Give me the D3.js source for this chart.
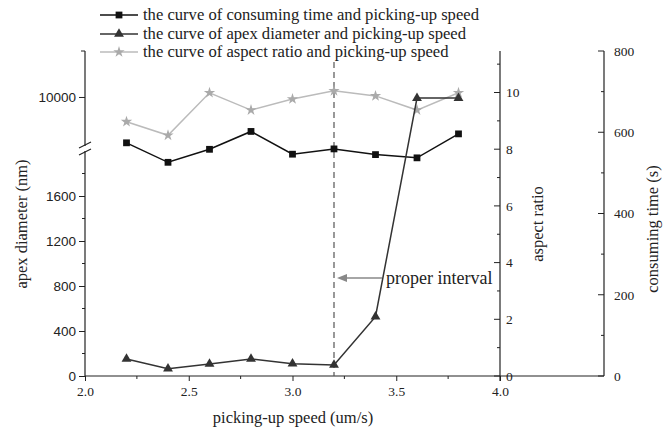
<!DOCTYPE html>
<html>
<head>
<meta charset="utf-8">
<script src="https://cdn.jsdelivr.net/npm/d3@7"></script>
<style>
  body { margin: 0; background: #fff; }
  svg { display: block; }
</style>
</head>
<body>
<svg id="chart" width="670" height="428"></svg>
<script>
// data
let speed = [2.2, 2.4, 2.6, 2.8, 3.0, 3.2, 3.4, 3.6, 3.8];
let consumingTime = [574, 526, 558, 602, 546, 559, 545, 537, 596];
let apexDiameter = [151, 65, 107, 151, 109, 98, 527, 9990, 9990];
let aspectRatio = [8.97, 8.49, 9.99, 9.38, 9.77, 10.06, 9.88, 9.38, 9.99];

let xTicks = [2.0, 2.5, 3.0, 3.5, 4.0];
let apexLowTicks = [0, 400, 800, 1200, 1600];
let apexHighTicks = [10000];
let aspectTicks = [0, 2, 4, 6, 8, 10];
let timeTicks = [0, 200, 400, 600, 800];

let legendNames = [
    "the curve of consuming time and picking-up speed",
    "the curve of apex diameter and picking-up speed",
    "the curve of aspect ratio and picking-up speed"
];

const SERIF = "'Liberation Serif', 'Times New Roman', serif";
const SANS = "'Liberation Sans', Arial, sans-serif";

let svg = d3.select("#chart");

let plotLeft = 85, plotRight = 500, plotFar = 604, plotBottom = 376, plotTop = 51;
let breakLow = 151, breakHigh = 146;

let x = d3.scaleLinear().domain([2.0, 4.0]).range([plotLeft, plotRight]);
let yLow = d3.scaleLinear().domain([0, 2000]).range([plotBottom, plotBottom - 2000 * 45 / 400]);
let yHigh = d3.scaleLinear().domain([9564, 10409]).range([breakHigh, plotTop]);
let yApex = v => v <= 2000 ? yLow(v) : yHigh(v);
let yAspect = d3.scaleLinear().domain([0, 325 / 28.35]).range([plotBottom, plotTop]);
let yTime = d3.scaleLinear().domain([0, 800]).range([plotBottom, plotTop]);

let axisColor = "#222";
let labelColor = "#222";

function styleAxis(g, family) {
    g.attr("font-family", null);
    g.select(".domain").remove();
    g.selectAll("text")
        .style("font-family", family)
        .style("font-size", "13.5px")
        .attr("fill", labelColor);
    g.selectAll("line").attr("stroke", axisColor);
}

// x axis
svg.append("g")
    .attr("transform", "translate(0," + plotBottom + ")")
    .call(d3.axisBottom(x).tickValues(xTicks).tickFormat(d3.format(".1f")).tickSize(5).tickPadding(5))
    .call(styleAxis, SERIF);
svg.append("g").selectAll("line")
    .data(d3.range(2.25, 4.0, 0.5))
    .join("line")
    .attr("x1", d => x(d)).attr("x2", d => x(d))
    .attr("y1", plotBottom).attr("y2", plotBottom + 3)
    .attr("stroke", axisColor);
svg.append("line")
    .attr("x1", plotLeft).attr("x2", plotFar)
    .attr("y1", plotBottom).attr("y2", plotBottom)
    .attr("stroke", axisColor).attr("stroke-width", 1.2);

// left axis, broken
svg.append("g")
    .attr("transform", "translate(" + plotLeft + ",0)")
    .call(d3.axisLeft(yLow).tickValues(apexLowTicks).tickFormat(d3.format("d")).tickSize(6).tickPadding(3))
    .call(styleAxis, SANS);
svg.append("g")
    .attr("transform", "translate(" + plotLeft + ",0)")
    .call(d3.axisLeft(yHigh).tickValues(apexHighTicks).tickFormat(d3.format("d")).tickSize(6).tickPadding(3))
    .call(styleAxis, SANS);
svg.append("g").selectAll("line")
    .data(d3.range(200, 2000, 400))
    .join("line")
    .attr("x1", plotLeft - 3).attr("x2", plotLeft)
    .attr("y1", d => yLow(d)).attr("y2", d => yLow(d))
    .attr("stroke", axisColor);
svg.append("line").attr("x1", plotLeft).attr("x2", plotLeft)
    .attr("y1", plotBottom).attr("y2", breakLow).attr("stroke", axisColor).attr("stroke-width", 1.2);
svg.append("line").attr("x1", plotLeft).attr("x2", plotLeft)
    .attr("y1", breakHigh).attr("y2", plotTop).attr("stroke", axisColor).attr("stroke-width", 1.2);
svg.append("line").attr("x1", plotLeft - 4).attr("x2", plotLeft)
    .attr("y1", plotTop).attr("y2", plotTop).attr("stroke", axisColor);
[breakLow + 1, breakHigh - 1].forEach(function(y0) {
    svg.append("line")
        .attr("x1", plotLeft - 6).attr("y1", y0 + 3)
        .attr("x2", plotLeft + 6).attr("y2", y0 - 3)
        .attr("stroke", axisColor).attr("stroke-width", 1.2);
});

// aspect ratio axis (ticks inward, labels right)
svg.append("g")
    .attr("transform", "translate(" + plotRight + ",0)")
    .call(d3.axisRight(yAspect).tickValues(aspectTicks).tickSize(0).tickPadding(6))
    .call(styleAxis, SERIF);
svg.append("g").selectAll("line")
    .data(aspectTicks)
    .join("line")
    .attr("x1", plotRight - 6).attr("x2", plotRight)
    .attr("y1", d => yAspect(d)).attr("y2", d => yAspect(d))
    .attr("stroke", axisColor);
svg.append("g").selectAll("line")
    .data(d3.range(1, 12, 2))
    .join("line")
    .attr("x1", plotRight - 3).attr("x2", plotRight)
    .attr("y1", d => yAspect(d)).attr("y2", d => yAspect(d))
    .attr("stroke", axisColor);
svg.append("line").attr("x1", plotRight).attr("x2", plotRight)
    .attr("y1", plotBottom + 5).attr("y2", plotTop).attr("stroke", axisColor).attr("stroke-width", 1.2);

// consuming time axis
svg.append("g")
    .attr("transform", "translate(" + plotFar + ",0)")
    .call(d3.axisRight(yTime).tickValues(timeTicks).tickSize(0).tickPadding(10))
    .call(styleAxis, SERIF);
svg.append("g").selectAll("line")
    .data(timeTicks)
    .join("line")
    .attr("x1", plotFar - 6).attr("x2", plotFar)
    .attr("y1", d => yTime(d)).attr("y2", d => yTime(d))
    .attr("stroke", axisColor);
svg.append("g").selectAll("line")
    .data(d3.range(100, 800, 200))
    .join("line")
    .attr("x1", plotFar - 3).attr("x2", plotFar)
    .attr("y1", d => yTime(d)).attr("y2", d => yTime(d))
    .attr("stroke", axisColor);
svg.append("line").attr("x1", plotFar).attr("x2", plotFar)
    .attr("y1", plotBottom).attr("y2", plotTop).attr("stroke", axisColor).attr("stroke-width", 1.2);

// axis titles
function title(tx, ty, rot, str) {
    svg.append("text")
        .attr("transform", "translate(" + tx + "," + ty + ")" + (rot ? " rotate(-90)" : ""))
        .attr("text-anchor", "middle")
        .style("font-family", SERIF).style("font-size", "16.5px")
        .attr("fill", "#222")
        .text(str);
}
title(27, 224, true, "apex diameter (nm)");
title(543, 224, true, "aspect ratio");
title(658, 229, true, "consuming time (s)");
title(293, 423, false, "picking-up speed (um/s)");

// dashed line at 3.2
svg.append("line")
    .attr("x1", x(3.2)).attr("x2", x(3.2))
    .attr("y1", 62).attr("y2", plotBottom)
    .attr("stroke", "#555").attr("stroke-width", 1.2)
    .attr("stroke-dasharray", "6,4");

// series
let series = [
    { values: consumingTime, y: yTime, color: "#111", marker: d3.symbolSquare, size: 46, fill: "#111" },
    { values: apexDiameter, y: yApex, color: "#333", marker: d3.symbolTriangle, size: 42, fill: "#333" },
    { values: aspectRatio, y: yAspect, color: "#bbb", marker: d3.symbolStar, size: 40, fill: "#aaa" }
];

let drawOrder = [2, 0, 1];
drawOrder.forEach(function(i) {
    let s = series[i];
    let line = d3.line()
        .x((d, j) => x(speed[j]))
        .y(d => s.y(d));
    svg.append("path")
        .datum(s.values)
        .attr("fill", "none")
        .attr("stroke", s.color)
        .attr("stroke-width", 1.5)
        .attr("d", line);
    svg.append("g").selectAll("path")
        .data(s.values)
        .join("path")
        .attr("transform", (d, j) => "translate(" + x(speed[j]) + "," + s.y(d) + ")")
        .attr("d", d3.symbol().type(s.marker).size(s.size))
        .attr("fill", s.fill);
});

// annotation arrow
svg.append("line")
    .attr("x1", 382).attr("x2", 342)
    .attr("y1", 278).attr("y2", 278)
    .attr("stroke", "#888").attr("stroke-width", 1.5);
svg.append("path")
    .attr("d", "M337,278 L347,274 L347,282 Z")
    .attr("fill", "#888");
svg.append("text")
    .attr("x", 386).attr("y", 284)
    .style("font-family", SERIF).style("font-size", "18px")
    .attr("fill", "#222")
    .text("proper interval");

// legend
let legendRows = [15, 34, 52];
series.forEach(function(s, i) {
    let g = svg.append("g").attr("transform", "translate(0," + legendRows[i] + ")");
    g.append("line")
        .attr("x1", 100).attr("x2", 138)
        .attr("stroke", s.color).attr("stroke-width", 1.5);
    g.append("path")
        .attr("transform", "translate(119,0)")
        .attr("d", d3.symbol().type(s.marker).size(s.size))
        .attr("fill", s.fill);
    g.append("text")
        .attr("x", 143).attr("y", 5)
        .style("font-family", SERIF).style("font-size", "16.6px")
        .attr("fill", "#222")
        .text(legendNames[i]);
});
</script>
</body>
</html>
